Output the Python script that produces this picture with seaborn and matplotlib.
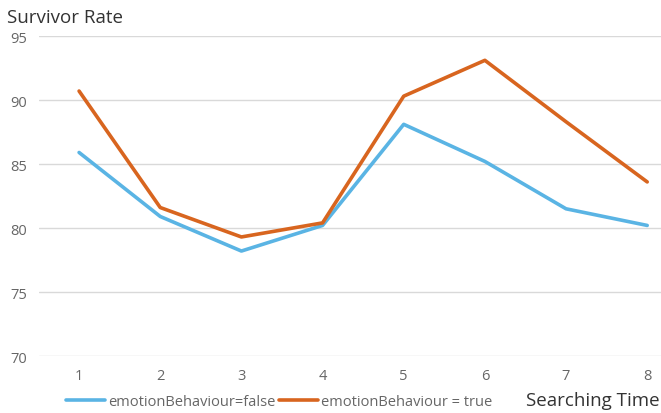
import pandas as pd
import matplotlib.pyplot as plt
import seaborn as sns
from matplotlib.lines import Line2D

searching_time = [1, 2, 3, 4, 5, 6, 7, 8]
emotion_false = [85.9, 80.9, 78.2, 80.2, 88.1, 85.2, 81.5, 80.2]
emotion_true = [90.7, 81.6, 79.3, 80.4, 90.3, 93.1, 88.3, 83.6]
series_names = ["emotionBehaviour=false", "emotionBehaviour = true"]
y_ticks = [70, 75, 80, 85, 90, 95]

df = pd.DataFrame({
    "Searching Time": searching_time * 2,
    "Survivor Rate": emotion_false + emotion_true,
    "series": [series_names[0]] * 8 + [series_names[1]] * 8,
})

sns.set_style("white")
plt.rcParams["font.family"] = ["Open Sans", "DejaVu Sans"]
text_color = "#666666"
colors = ["#5AB4E4", "#D8651F"]

fig = plt.figure(figsize=(6.61, 4.14), dpi=100)
ax = fig.add_axes([38.5 / 661, 57 / 414, 622.5 / 661, 320 / 414])

sns.lineplot(data=df, x="Searching Time", y="Survivor Rate", hue="series",
             palette=colors, linewidth=2.6, ax=ax, legend=False)

ax.set_xlim(0.5, 8.17)
ax.set_ylim(70, 95)
ax.set_yticks(y_ticks)
ax.set_xticks(searching_time)
ax.grid(axis="y", color="#d9d9d9", linewidth=1)
ax.set_axisbelow(True)
for s in ax.spines.values():
    s.set_visible(False)
ax.tick_params(axis="both", length=0, labelsize=10.5, colors=text_color)
ax.tick_params(axis="y", pad=8)
ax.tick_params(axis="x", pad=9)
ax.set_xlabel("")
ax.set_ylabel("")

fig.text(7 / 661, 1 - 18 / 414, "Survivor Rate", fontsize=13.5, color="#333333",
         ha="left", va="center")
fig.text(660 / 661, 1 - 401 / 414, "Searching Time", fontsize=13.5, color="#333333",
         ha="right", va="center")

handles = [Line2D([0], [0], color=c, lw=2.6) for c in colors]
fig.legend(handles, series_names, loc="center left", bbox_to_anchor=(66 / 661, 1 - 403 / 414),
           ncol=2, frameon=False, fontsize=10.5, handlelength=2.7, handletextpad=0.2,
           columnspacing=0.2, labelcolor=text_color, borderaxespad=0, borderpad=0)

fig.savefig("out.png", dpi=100)
